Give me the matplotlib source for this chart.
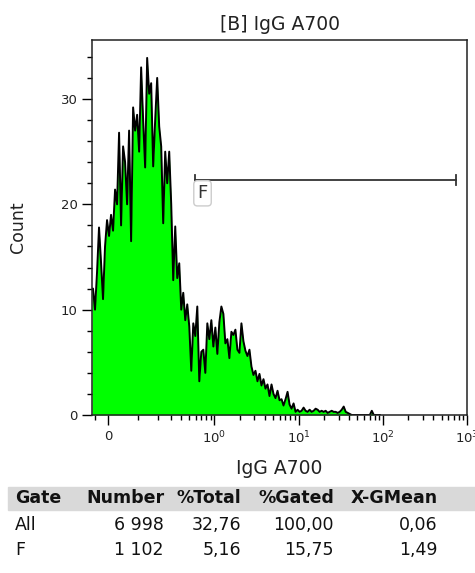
import numpy as np
import matplotlib
matplotlib.use("Agg")
import matplotlib.pyplot as plt
from matplotlib.ticker import FixedLocator, NullFormatter

# logicle-like display: asinh with this linear width
lin_width = 0.1096

# histogram channels (asinh units) and smoothed counts
chan_lo, chan_hi = -0.4386, 9.84
n_bins = 144
chan_step = 2 / 36.48
counts = [
    12, 10, 13.5, 17.8, 14.5, 11, 16, 18.5, 17, 19,
    17.5, 21.4, 20, 26.8, 18, 25.5, 24, 20, 27, 16.5,
    29.2, 27, 28.5, 25, 33, 28, 23.5, 33.9, 30.5, 31.5,
    23.6, 28, 32, 27.4, 25.5, 18.2, 25, 22, 25, 20,
    12.8, 17.9, 13, 14.4, 10, 11.6, 9, 10.5, 8.4, 4.2,
    8.7, 7.5, 10.3, 3.2, 6, 6.2, 4, 8.7, 7.2, 9,
    6.5, 8.3, 5.8, 8.8, 10.3, 9.6, 6.8, 7.2, 5.4, 7.9,
    7.6, 8.1, 6.2, 5.9, 8.7, 7.0, 6.1, 5.6, 6.2, 4.6,
    3.8, 4.2, 3.2, 3.9, 2.8, 3.4, 2.5, 2.9, 1.8, 2.9,
    2.0, 1.6, 2.3, 1.4, 1.5, 0.9, 1.5, 2.2, 1.0, 0.6,
    1.1, 0.3, 0.5, 0.3, 0.4, 0.7, 0.4, 0.3, 0.5, 0.3,
    0.4, 0.6, 0.5, 0.3, 0.4, 0.3, 0.4, 0.2, 0.3, 0.4,
    0.3, 0.3, 0.2, 0.3, 0.5, 0.8, 0.3, 0.2, 0.1, 0,
    0, 0, 0, 0, 0, 0, 0, 0, 0, 0.4,
    0, 0, 0, 0,
]

title = "[B] IgG A700"
x_label = "IgG A700"
y_label = "Count"
x_major = [0, 1, 10, 100, 1000]
x_major_labels = ["0", "$10^0$", "$10^1$", "$10^2$", "$10^3$"]
x_minor = [-0.04] + [k / 10 for k in range(1, 10)] + [k for k in range(2, 10)] \
    + [k * 10 for k in range(2, 10)] + [k * 100 for k in range(2, 10)]

gate_name = "F"
gate_lo, gate_hi, gate_y = 0.59, 737, 22.3

table_header = ["Gate", "Number", "%Total", "%Gated", "X-GMean"]
table_rows = [
    ["All", "6 998", "32,76", "100,00", "0,06"],
    ["F", "1 102", "5,16", "15,75", "1,49"],
]

x_left = lin_width * np.sinh(chan_lo)
x_right = 1000

centers = lin_width * np.sinh(chan_lo + chan_step * (np.arange(n_bins) + 0.5))
centers = np.concatenate([[x_left], centers])
vals = np.array([counts[0]] + counts)

fig = plt.figure(figsize=(4.75, 5.73), dpi=100)
ax = fig.add_axes([92 / 475, 1 - 415 / 573, 375 / 475, 375 / 573])

ax.fill_between(centers, 0, vals, color="#00ff00", lw=0)
ax.plot(centers, vals, color="black", lw=1.4)

ax.set_xscale("asinh", linear_width=lin_width)
ax.set_xlim(x_left, x_right)
ax.set_ylim(0, 35.6)

ax.xaxis.set_major_locator(FixedLocator(x_major))
ax.set_xticklabels(x_major_labels, fontsize=9.5, color="#222222")
ax.xaxis.set_minor_locator(FixedLocator(x_minor))
ax.xaxis.set_minor_formatter(NullFormatter())
ax.set_yticks([0, 10, 20, 30])
ax.set_yticks(np.arange(0, 36, 2), minor=True)
ax.tick_params(axis="y", labelsize=9.5, labelcolor="#222222")
ax.tick_params(which="major", length=7, width=1, direction="out")
ax.tick_params(which="minor", length=3.5, width=1, direction="out")
for sp in ax.spines.values():
    sp.set_linewidth(1.1)
    sp.set_color("#222222")

ax.set_title(title, fontsize=13.5, color="#222222", pad=7)
ax.set_xlabel(x_label, fontsize=13.5, color="#222222", labelpad=9)
ax.set_ylabel(y_label, fontsize=12.5, color="#222222", labelpad=24)

# gate bracket
ax.plot([gate_lo, gate_hi], [gate_y, gate_y], color="#333333", lw=1.3)
ax.plot([gate_lo, gate_lo], [gate_y - 0.5, gate_y + 0.5], color="#333333", lw=1.3)
ax.plot([gate_hi, gate_hi], [gate_y - 0.5, gate_y + 0.5], color="#333333", lw=1.3)
ax.text(gate_lo * 1.06, gate_y - 0.4, gate_name, fontsize=13, color="#333333",
        ha="left", va="top",
        bbox=dict(boxstyle="round,pad=0.2", fc="white", ec="#cccccc", lw=1))

# statistics table
fig.patches.append(plt.Rectangle((8 / 475, 1 - 510 / 573), 467 / 475, 23 / 573,
                                 transform=fig.transFigure, color="#d9d9d9", zorder=0))
col_x = [15, 164, 241, 334, 438]
col_ha = ["left", "right", "right", "right", "right"]
for c, txt in enumerate(table_header):
    fig.text(col_x[c] / 475, 1 - 498 / 573, txt, fontsize=12.5, fontweight="bold",
             ha=col_ha[c], va="center", color="#111111")
for r, row in enumerate(table_rows):
    yy = 525 + 25 * r
    for c, txt in enumerate(row):
        fig.text(col_x[c] / 475, 1 - yy / 573, txt, fontsize=12.5,
                 ha=col_ha[c], va="center", color="#111111")

fig.savefig("out.png", dpi=100)
